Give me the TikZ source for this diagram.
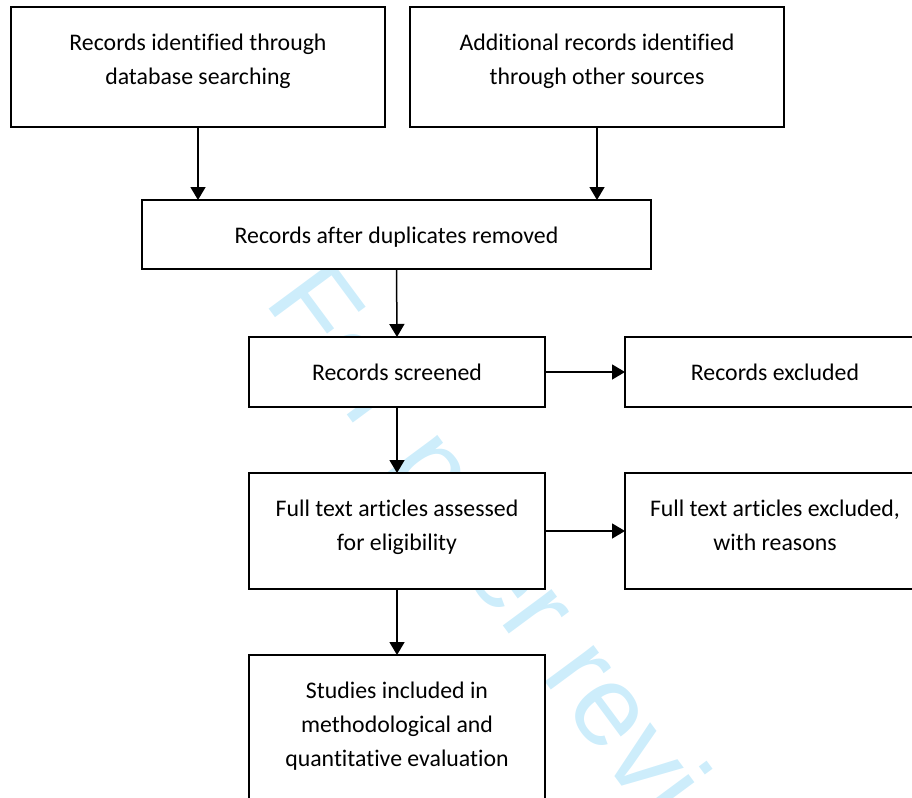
\documentclass[tikz,border=0pt]{standalone}
\usepackage{fontspec}
\setmainfont{Carlito}[Ligatures=NoCommon]
\newfontfamily\markfont{Liberation Sans}
\usetikzlibrary{arrows.meta}
\definecolor{markblue}{RGB}{205,237,251}
\newcommand{\stagetext}[3]{\parbox[c][#2][t]{#1}{\centering\rule{0pt}{43.5pt}#3}}

\begin{document}
\begin{tikzpicture}[x=1pt,y=-1pt,inner sep=0pt,outer sep=0pt,line width=1.5pt,
>={Triangle[length=13pt,width=15pt]},
stage/.style={draw,fill=white,rectangle,anchor=north west,font=\fontsize{23.8}{34}\selectfont}]

\useasboundingbox (0,0) rectangle (912,797);
\clip (0,0) rectangle (912,797);

% watermark behind the boxes
\node[anchor=base west,rotate=-53.5,text=markblue,font=\markfont\fontsize{115}{115}\selectfont] (mark) at (263,301) {For peer review only};

\node[stage] (db) at (11,7) {\stagetext{374pt}{120pt}{Records identified through\\database searching}};
\node[stage] (other) at (410,7) {\stagetext{374pt}{120pt}{Additional records identified\\through other sources}};
\node[stage] (dup) at (142,200) {\stagetext{509pt}{69pt}{Records after duplicates removed}};
\node[stage] (screen) at (249,337) {\stagetext{296pt}{70pt}{Records screened}};
\node[stage] (excl) at (625,337) {\stagetext{300pt}{70pt}{Records excluded}};
\node[stage] (full) at (249,473) {\stagetext{296pt}{116pt}{Full text articles assessed\\for eligibility}};
\node[stage] (fullexcl) at (625,473) {\stagetext{300pt}{116pt}{Full text articles excluded,\\with reasons}};
\node[stage] (incl) at (249,655) {\stagetext{296pt}{180pt}{Studies included in\\methodological and\\quantitative evaluation}};

\draw[->] (db.south) -- (db.south |- dup.north);
\draw[->] (other.south) -- (other.south |- dup.north);
\draw[->] (dup.south) -- (screen.north);
\draw[->] (screen.east) -- (excl.west);
\draw[->] (screen.south) -- (full.north);
\draw[->] (full.east) -- (fullexcl.west);
\draw[->] (full.south) -- (incl.north);
\end{tikzpicture}
\end{document}
